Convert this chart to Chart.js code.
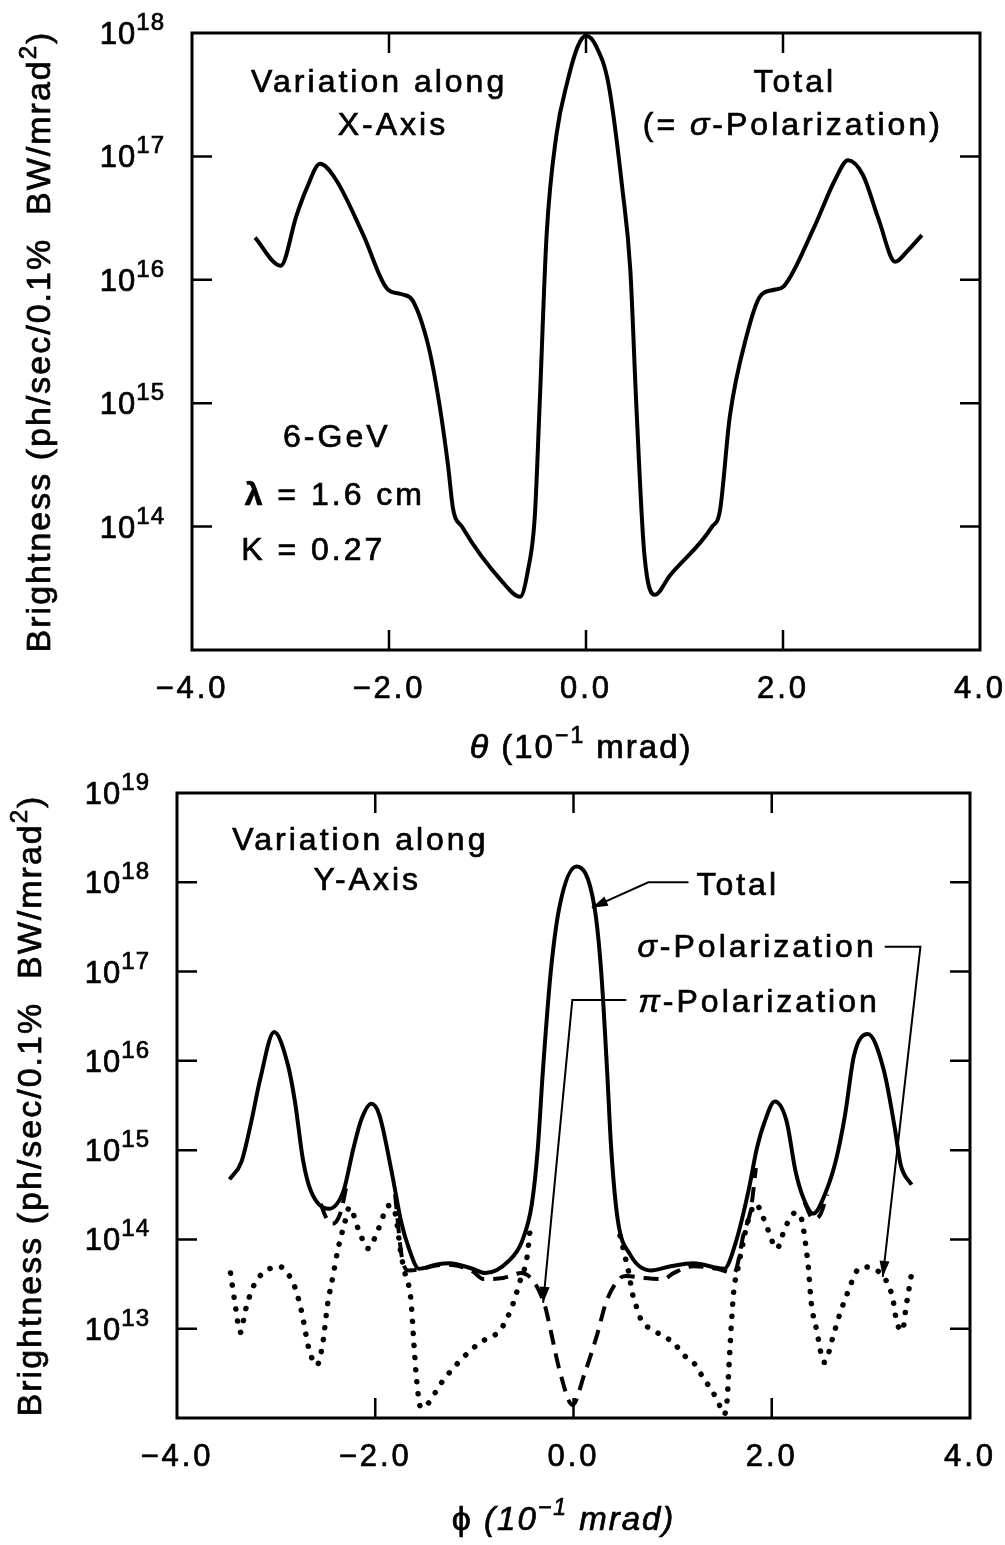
<!DOCTYPE html>
<html>
<head>
<meta charset="utf-8">
<script src="https://cdn.jsdelivr.net/npm/chart.js@4.4.0/dist/chart.umd.min.js"></script>
<style>
  body { margin: 0; background: #fff; }
  #wrap { position: relative; width: 1005px; height: 1545px; background: #fff; }
  canvas { position: absolute; left: 0; }
</style>
</head>
<body>
<div id="wrap">
  <canvas id="chartX" width="1005" height="770" style="top:0"></canvas>
  <canvas id="chartY" width="1005" height="775" style="top:770px"></canvas>
</div>
<script>
// Axis ticks shared by both panels
const xTickValues = [-4, -2, 0, 2, 4];
const yTicksTop = [1e13, 1e14, 1e15, 1e16, 1e17, 1e18];
const yLabelsTop = [1e14, 1e15, 1e16, 1e17, 1e18];
const yTicksBottom = [1e12, 1e13, 1e14, 1e15, 1e16, 1e17, 1e18, 1e19];
const yLabelsBottom = [1e13, 1e14, 1e15, 1e16, 1e17, 1e18, 1e19];

// Top panel: variation along X axis (total = sigma polarization)
const thetaPos = [-3.36, -3.10, -2.94, -2.84, -2.70, -2.54, -2.26, -2.02, -1.86, -1.76, -1.60, -1.49,
    -1.40, -1.35, -1.26, -0.84, -0.67, -0.59, -0.52, -0.47, -0.40, -0.30, -0.19, -0.08, 0.00, 0.10,
    0.23, 0.37, 0.45, 0.51, 0.59, 0.70, 0.85, 1.28, 1.36, 1.46, 1.63, 1.77, 1.91, 2.01, 2.31, 2.53,
    2.66, 2.81, 2.97, 3.14, 3.26, 3.41];
const brightX = [2.2e16, 1.3e16, 3.3e16, 5.4e16, 8.7e16, 6.5e16, 2.3e16, 8.5e15, 7.6e15, 6.8e15, 2.9e15, 1.0e15,
    3.1e14, 1.4e14, 1.0e14, 3.5e13, 2.7e13, 4.4e13, 1.2e14, 1.0e15, 2.3e16, 1.5e17, 4.0e17, 7.9e17, 9.5e17, 7.9e17,
    3.8e17, 5.4e16, 1.2e16, 1.0e15, 6.3e13, 2.8e13, 4.0e13, 1.0e14, 1.35e14, 7.8e14, 3.5e15, 7.4e15, 8.3e15, 8.9e15, 2.6e16, 6.5e16,
    9.3e16, 7.1e16, 3.1e16, 1.4e16, 1.7e16, 2.3e16];

// Bottom panel: variation along Y axis, total
const phiPos = [-3.47, -3.35, -3.25, -3.16, -3.02, -2.88, -2.81, -2.73, -2.65, -2.47, -2.32, -2.22, -2.14,
    -2.04, -1.96, -1.83, -1.74, -1.66, -1.56, -1.39, -1.25, -1.02, -0.89, -0.65, -0.52, -0.42, -0.36,
    -0.31, -0.23, -0.14, 0.03, 0.21, 0.28, 0.34, 0.38, 0.445, 0.57, 0.78, 0.98, 1.21, 1.52, 1.64,
    1.77, 1.85, 1.93, 2.03, 2.15, 2.24, 2.32, 2.42, 2.55, 2.65, 2.74, 2.83, 2.97, 3.13, 3.24, 3.30, 3.41];
const brightY = [4.7e14, 7.4e14, 2.1e15, 6.3e15, 2.1e16, 8.9e15, 3.5e15, 7.9e14, 3.5e14, 2.2e14, 3.5e14, 1.05e15, 2.2e15,
    3.3e15, 2.5e15, 5.4e14, 1.6e14, 7.9e13, 4.7e13, 5.2e13, 5.4e13, 4.7e13, 4.2e13, 5.8e13, 9.5e13, 2.5e14, 1.05e15,
    7.4e15, 9.8e16, 5.4e17, 1.5e18, 5.4e17, 9.8e16, 7.4e15, 1.05e15, 1.7e14, 6.8e13, 4.5e13, 5.0e13, 5.4e13, 4.7e13, 9.5e13,
    3.7e14, 1.05e15, 2.1e15, 3.5e15, 2.1e15, 5.8e14, 2.9e14, 1.95e14, 3.5e14, 7.9e14, 2.5e15, 1.15e16, 2.0e16, 7.9e15, 1.8e15, 6.9e14, 4.1e14];

// sigma polarization (dotted), left and right of the central peak
const sigmaLeftPos = [-3.46, -3.42, -3.36, -3.31, -3.24, -3.18, -3.08, -2.97, -2.88, -2.81, -2.74, -2.67, -2.59,
    -2.53, -2.48, -2.43, -2.38, -2.31, -2.26, -2.17, -2.07, -1.97, -1.86, -1.80, -1.74, -1.70, -1.64, -1.61,
    -1.58, -1.54, -1.48, -1.33, -1.16, -0.95, -0.73, -0.61, -0.54, -0.47, -0.44];
const sigmaLeft = [4.2e13, 2.1e13, 9.1e12, 1.6e13, 2.8e13, 3.7e13, 4.6e13, 5.0e13, 4.1e13, 2.9e13, 1.5e13, 6.0e12, 3.9e12,
    6.8e12, 1.9e13, 3.7e13, 7.4e13, 1.5e14, 2.3e14, 1.3e14, 7.9e13, 1.3e14, 2.4e14, 2.0e14, 6.8e13, 4.2e13, 2.1e13, 6.8e12,
    2.5e12, 1.3e12, 1.4e12, 2.5e12, 4.2e12, 6.9e12, 1.0e13, 1.9e13, 3.4e13, 6.2e13, 1.2e14];
const sigmaRightPos = [0.47, 0.53, 0.56, 0.59, 0.64, 0.69, 0.78, 0.90, 1.02, 1.10, 1.21, 1.31, 1.40, 1.46, 1.52,
    1.55, 1.57, 1.60, 1.62, 1.65, 1.69, 1.76, 1.84, 1.91, 1.96, 2.05, 2.13, 2.18, 2.24, 2.30, 2.34, 2.37,
    2.40, 2.45, 2.53, 2.57, 2.62, 2.69, 2.77, 2.87, 2.96, 3.06, 3.14, 3.22, 3.26, 3.32, 3.35, 3.38, 3.42];
const sigmaRight = [1.1e14, 5.8e13, 4.1e13, 2.6e13, 1.7e13, 1.2e13, 1.0e13, 8.3e12, 6.8e12, 5.2e12, 4.2e12, 2.8e12, 2.0e12, 1.5e12, 1.1e12,
    1.6e12, 4.1e12, 1.5e13, 2.9e13, 4.2e13, 7.1e13, 1.6e14, 2.5e14, 1.8e14, 1.3e14, 7.9e13, 1.3e14, 1.7e14, 2.0e14, 1.7e14, 9.1e13, 4.8e13,
    1.9e13, 1.0e13, 4.2e12, 5.2e12, 8.3e12, 1.5e13, 2.6e13, 4.6e13, 4.9e13, 4.5e13, 3.7e13, 2.2e13, 1.2e13, 9.5e12, 1.6e13, 2.6e13, 4.7e13];

// pi polarization (dashed), only where it leaves the total curve
const piAPos = [-2.55, -2.50, -2.43, -2.35, -2.29];
const piA = [2.5e14, 1.8e14, 1.5e14, 2.0e14, 4.0e14];
const piBPos = [-1.80, -1.73, -1.66, -1.56, -1.39, -1.25, -1.02, -0.91, -0.71, -0.53, -0.30, -0.23, -0.14, -0.01,
    0.11, 0.24, 0.33, 0.47, 0.53, 0.71, 0.91, 1.01, 1.21, 1.45, 1.62, 1.72, 1.79, 1.84];
const piB = [3.2e14, 6.2e13, 4.5e13, 4.6e13, 5.1e13, 5.2e13, 4.4e13, 3.6e13, 3.7e13, 4.2e13, 2.0e13, 9.5e12, 3.4e12, 1.4e12,
    3.1e12, 8.7e12, 2.0e13, 3.7e13, 3.9e13, 3.7e13, 3.6e13, 4.2e13, 5.0e13, 4.7e13, 4.2e13, 1.2e14, 2.2e14, 6.3e14];
const piCPos = [2.33, 2.42, 2.49, 2.56];
const piC = [2.6e14, 1.7e14, 1.9e14, 3.2e14];

const FONT = '"Liberation Sans", Arial, Helvetica, sans-serif';

// parts are [text, size, style, rise]
function drawParts(ctx, parts, x, y, align) {
    let w = 0;
    parts.forEach(p => {
        ctx.font = (p[2] ? p[2] + ' ' : '') + (p[1] || 32) + 'px ' + FONT;
        w += ctx.measureText(p[0]).width;
    });
    let cx = x;
    if (align === 'center') cx = x - w / 2;
    if (align === 'right') cx = x - w;
    ctx.textAlign = 'left';
    ctx.textBaseline = 'alphabetic';
    ctx.lineWidth = 0.7;
    parts.forEach(p => {
        ctx.font = (p[2] ? p[2] + ' ' : '') + (p[1] || 32) + 'px ' + FONT;
        ctx.strokeText(p[0], cx, y - (p[3] || 0));
        ctx.fillText(p[0], cx, y - (p[3] || 0));
        cx += ctx.measureText(p[0]).width;
    });
}

function arrowHead(ctx, x1, y1, x2, y2) {
    const ang = Math.atan2(y2 - y1, x2 - x1);
    const len = 16, half = 5;
    ctx.beginPath();
    ctx.moveTo(x2, y2);
    ctx.lineTo(x2 - len * Math.cos(ang) + half * Math.sin(ang), y2 - len * Math.sin(ang) - half * Math.cos(ang));
    ctx.lineTo(x2 - len * Math.cos(ang) - half * Math.sin(ang), y2 - len * Math.sin(ang) + half * Math.cos(ang));
    ctx.closePath();
    ctx.fill();
}

// Box, inward ticks, superscript labels, titles and notes
const framePlugin = {
    id: 'frame',
    beforeDraw(chart) {
        chart.ctx.letterSpacing = '3px';
    },
    afterDraw(chart, args, opts) {
        const ctx = chart.ctx;
        const a = chart.chartArea;
        const xs = chart.scales.x;
        const ys = chart.scales.y;
        ctx.save();
        ctx.strokeStyle = '#000';
        ctx.fillStyle = '#000';
        ctx.lineWidth = 3;
        ctx.strokeRect(a.left, a.top, a.right - a.left, a.bottom - a.top);

        ctx.lineWidth = 2.5;
        ctx.beginPath();
        xTickValues.forEach(v => {
            if (v <= xs.min || v >= xs.max) return;
            const px = xs.getPixelForValue(v);
            ctx.moveTo(px, a.bottom); ctx.lineTo(px, a.bottom - 20);
            ctx.moveTo(px, a.top); ctx.lineTo(px, a.top + 20);
        });
        opts.yTicks.forEach(v => {
            if (v <= ys.min || v >= ys.max) return;
            const py = ys.getPixelForValue(v);
            ctx.moveTo(a.left, py); ctx.lineTo(a.left + 20, py);
            ctx.moveTo(a.right, py); ctx.lineTo(a.right - 20, py);
        });
        ctx.stroke();

        // y labels as 10 with a raised exponent
        ctx.letterSpacing = '1px';
        opts.yLabels.forEach(v => {
            const py = ys.getPixelForValue(v);
            const e = Math.round(Math.log10(v));
            drawParts(ctx, [['10', 31], [String(e), 24, '', 14]], a.left - 27, py + 11, 'right');
        });

        // y title, rotated
        ctx.letterSpacing = '2px';
        ctx.save();
        ctx.translate(0, (a.top + a.bottom) / 2);
        ctx.rotate(-Math.PI / 2);
        drawParts(ctx, [['Brightness (ph/sec/0.1%  BW/mrad', 34], ['2', 24, '', 14], [')', 34]], 0, opts.yTitleX, 'center');
        ctx.restore();

        // x title
        drawParts(ctx, opts.xTitle, xs.getPixelForValue(opts.xTitleAt), opts.xTitleY, 'center');

        // notes inside the plot
        ctx.letterSpacing = '3px';
        opts.notes.forEach(n => {
            drawParts(ctx, n.parts, xs.getPixelForValue(n.x), ys.getPixelForValue(n.y), n.align);
        });

        // leader lines with arrows
        ctx.letterSpacing = '0px';
        ctx.lineWidth = 2;
        opts.leaders.forEach(l => {
            const p = l.map(q => [xs.getPixelForValue(q[0]), ys.getPixelForValue(q[1])]);
            ctx.beginPath();
            ctx.moveTo(p[0][0], p[0][1]);
            for (let i = 1; i < p.length; i++) ctx.lineTo(p[i][0], p[i][1]);
            ctx.stroke();
            const n = p.length;
            arrowHead(ctx, p[n - 2][0], p[n - 2][1], p[n - 1][0], p[n - 1][1]);
        });
        ctx.restore();
    }
};

function pts(xv, yv) {
    return xv.map((x, i) => ({ x: x, y: yv[i] }));
}

function fmtX(v) {
    return (v < 0 ? '\u2212' : '') + Math.abs(v).toFixed(1);
}

const solid = { borderWidth: 4 };
const dotted = { borderWidth: 5.5, borderDash: [0.1, 12], borderCapStyle: 'round' };
const dashed = { borderWidth: 4, borderDash: [15, 9] };

function makeChart(id, cfg) {
    return new Chart(document.getElementById(id), {
        type: 'line',
        data: { datasets: cfg.datasets },
        options: {
            responsive: false,
            animation: false,
            events: [],
            layout: { padding: cfg.padding },
            plugins: { legend: { display: false }, tooltip: { enabled: false }, frame: cfg.frame },
            elements: {
                point: { radius: 0 },
                line: { cubicInterpolationMode: 'monotone', borderColor: '#000', fill: false, borderJoinStyle: 'round' }
            },
            scales: {
                x: {
                    type: 'linear', min: -4, max: 4,
                    grid: { display: false, drawTicks: false },
                    border: { display: false },
                    afterBuildTicks: s => { s.ticks = xTickValues.map(v => ({ value: v })); },
                    afterFit: s => { s.height = cfg.xHeight; s.paddingLeft = 0; s.paddingRight = 0; },
                    ticks: {
                        padding: 21, color: '#000', font: { family: FONT, size: 31 },
                        textStrokeColor: '#000', textStrokeWidth: 0.7,
                        callback: v => fmtX(v)
                    }
                },
                y: {
                    type: 'logarithmic', min: cfg.yMin, max: cfg.yMax,
                    grid: { display: false, drawTicks: false },
                    border: { display: false },
                    ticks: { display: false },
                    afterFit: s => { s.width = cfg.yWidth; s.paddingTop = 0; s.paddingBottom = 0; }
                }
            }
        },
        plugins: [framePlugin]
    });
}

window.onload = function() {
    makeChart('chartX', {
        padding: { top: 33, right: 25 },
        xHeight: 120, yWidth: 192, yMin: 1e13, yMax: 1e18,
        datasets: [{ data: pts(thetaPos, brightX), ...solid }],
        frame: {
            yTicks: yTicksTop, yLabels: yLabelsTop, yTitleX: 50,
            xTitleAt: -0.05, xTitleY: 758,
            xTitle: [['\u03b8', 34, 'italic'], [' (10', 33], ['\u22121', 23, '', 15], [' mrad)', 33]],
            notes: [
                { x: -2.10, y: 3.3e17, align: 'center', parts: [['Variation along']] },
                { x: -1.96, y: 1.5e17, align: 'center', parts: [['X-Axis']] },
                { x: 2.12, y: 3.3e17, align: 'center', parts: [['Total']] },
                { x: 2.10, y: 1.5e17, align: 'center', parts: [['(= '], ['\u03c3', 32, 'italic'], ['-Polarization)']] },
                { x: -2.53, y: 4.4e14, align: 'center', parts: [['6-GeV']] },
                { x: -2.55, y: 1.5e14, align: 'center', parts: [['\u03bb', 32, 'bold'], [' = 1.6 cm']] },
                { x: -3.50, y: 5.4e13, align: 'left', parts: [['K = 0.27']] }
            ],
            leaders: []
        }
    });

    makeChart('chartY', {
        padding: { top: 23, right: 35 },
        xHeight: 127, yWidth: 177, yMin: 1e12, yMax: 1e19,
        datasets: [
            { data: pts(phiPos, brightY), ...solid },
            { data: pts(sigmaLeftPos, sigmaLeft), ...dotted },
            { data: pts(sigmaRightPos, sigmaRight), ...dotted },
            { data: pts(piAPos, piA), ...dashed },
            { data: pts(piBPos, piB), ...dashed },
            { data: pts(piCPos, piC), ...dashed }
        ],
        frame: {
            yTicks: yTicksBottom, yLabels: yLabelsBottom, yTitleX: 41,
            xTitleAt: -0.1, xTitleY: 760,
            xTitle: [['\u03d5', 34], [' (', 33, 'italic'], ['10', 33, 'italic'], ['\u22121', 23, 'italic', 15], [' mrad)', 33, 'italic']],
            notes: [
                { x: -2.15, y: 2.3e18, align: 'center', parts: [['Variation along']] },
                { x: -2.08, y: 8.1e17, align: 'center', parts: [['Y-Axis']] },
                { x: 1.24, y: 7.2e17, align: 'left', parts: [['Total']] },
                { x: 0.646, y: 1.45e17, align: 'left', parts: [['\u03c3', 32, 'italic'], ['-Polarization']] },
                { x: 0.655, y: 3.5e16, align: 'left', parts: [['\u03c0', 32, 'italic'], ['-Polarization']] }
            ],
            leaders: [
                [[1.16, 1e18], [0.755, 1e18], [0.185, 5.2e17]],
                [[3.14, 1.9e17], [3.50, 1.9e17], [3.12, 3.8e13]],
                [[0.533, 4.8e16], [-0.012, 4.8e16], [-0.306, 1.95e13]]
            ]
        }
    });
};
</script>
</body>
</html>
